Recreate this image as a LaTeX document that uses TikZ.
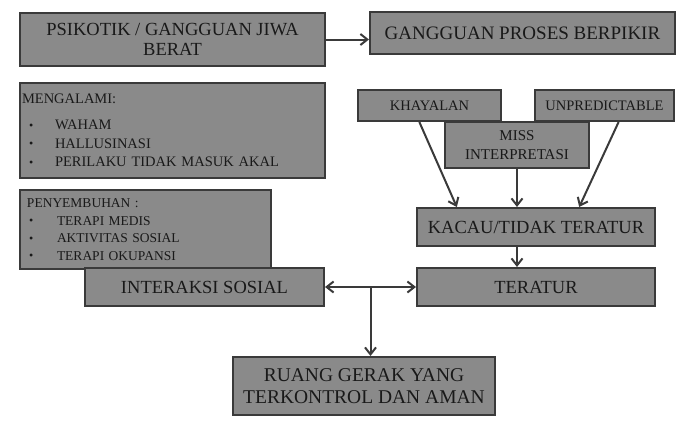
\documentclass[tikz,border=0pt]{standalone}
\usepackage{fontspec}
\setmainfont{Liberation Serif}
\usetikzlibrary{calc,positioning,arrows.meta}
\definecolor{boxgray}{RGB}{138,138,138}
\definecolor{edgegray}{RGB}{58,58,58}
\tikzstyle{box}   = [rectangle, draw=edgegray, line width=2pt, fill=boxgray,
                     text=black!90, inner sep=2pt, align=center]
\tikzstyle{big}   = [box, font=\fontsize{18.5}{20}\selectfont]
\tikzstyle{small} = [box, font=\fontsize{14.5}{16}\selectfont]
\tikzstyle{list}  = [box, align=left]
\tikzstyle{arrow} = [line width=2pt, draw=edgegray, -{Straight Barb[length=7pt,width=11pt]}]
\newcommand{\itm}[2]{\makebox[#2][l]{\hspace{#1}\raisebox{0.5pt}{\fontsize{12}{12}\selectfont\textbullet}}}

\begin{document}
\begin{tikzpicture}[x=1pt, y=-1pt]
	\useasboundingbox (0,0) rectangle (682,421);
	% top row
	\node[big, minimum width=305pt, minimum height=53pt] (psi) at (172.5,39.5)
		{PSIKOTIK / GANGGUAN JIWA\\BERAT};
	\node[big, minimum width=305pt, minimum height=42pt, font=\fontsize{19}{20}\selectfont]
		(gpb) at (522.5,33) {GANGGUAN PROSES BERPIKIR};
	% lists on the left
	\node[list, minimum height=95pt, text width=301pt, font=\fontsize{14.5}{18.5}\selectfont]
		(meng) at (172.5,130.5)
		{MENGALAMI:\\[8pt]
		 \itm{7pt}{33pt}WAHAM\\
		 \itm{7pt}{33pt}HALLUSINASI\\
		 \itm{7pt}{33pt}PERILAKU TIDAK MASUK AKAL};
	\node[list, minimum height=79pt, text width=237pt, inner xsep=7pt,
		font=\fontsize{13.5}{17.5}\selectfont] (pen) at (145.5,229.5)
		{PENYEMBUHAN :\\
		 \itm{2pt}{30pt}TERAPI MEDIS\\
		 \itm{2pt}{30pt}AKTIVITAS SOSIAL\\
		 \itm{2pt}{30pt}TERAPI OKUPANSI};
	% causes on the right
	\node[small, minimum width=143pt, minimum height=31pt] (khay) at (429.5,105.5) {KHAYALAN};
	\node[small, minimum width=139pt, minimum height=31pt] (unpr) at (604.5,105.5) {UNPREDICTABLE};
	\node[box, minimum width=144pt, minimum height=46pt, font=\fontsize{15}{19}\selectfont]
		(miss) at (517,145) {MISS\\INTERPRETASI};
	\node[big, minimum width=238pt, minimum height=38pt] (kacau) at (536,227) {KACAU/TIDAK TERATUR};
	\node[big, minimum width=238pt, minimum height=38pt] (terat) at (536,287) {TERATUR};
	\node[big, minimum width=239pt, minimum height=38pt] (inter) at (204.5,287) {INTERAKSI SOSIAL};
	\node[big, minimum width=262pt, minimum height=58pt, font=\fontsize{19.5}{22}\selectfont]
		(ruang) at (364,386) {RUANG GERAK YANG\\TERKONTROL DAN AMAN};

	\coordinate (split) at ($(inter.east)!0.5!(terat.west)$);

	\draw[arrow] (psi.east) -- (psi.east -| gpb.west);
	\draw[arrow] ($(khay.south west)!0.43!(khay.south east)$) -- ($(kacau.north west)!0.17!(kacau.north east)$);
	\draw[arrow] (miss.south) -- (miss.south |- kacau.north);
	\draw[arrow] ($(unpr.south west)!0.6!(unpr.south east)$) -- ($(kacau.north west)!0.68!(kacau.north east)$);
	\draw[arrow] (miss.south |- kacau.south) -- (miss.south |- terat.north);
	\draw[arrow, {Straight Barb[length=7pt,width=11pt]}-{Straight Barb[length=7pt,width=11pt]}] (inter.east) -- (terat.west);
	\draw[arrow] (split) -- (split |- ruang.north);
\end{tikzpicture}
\end{document}
